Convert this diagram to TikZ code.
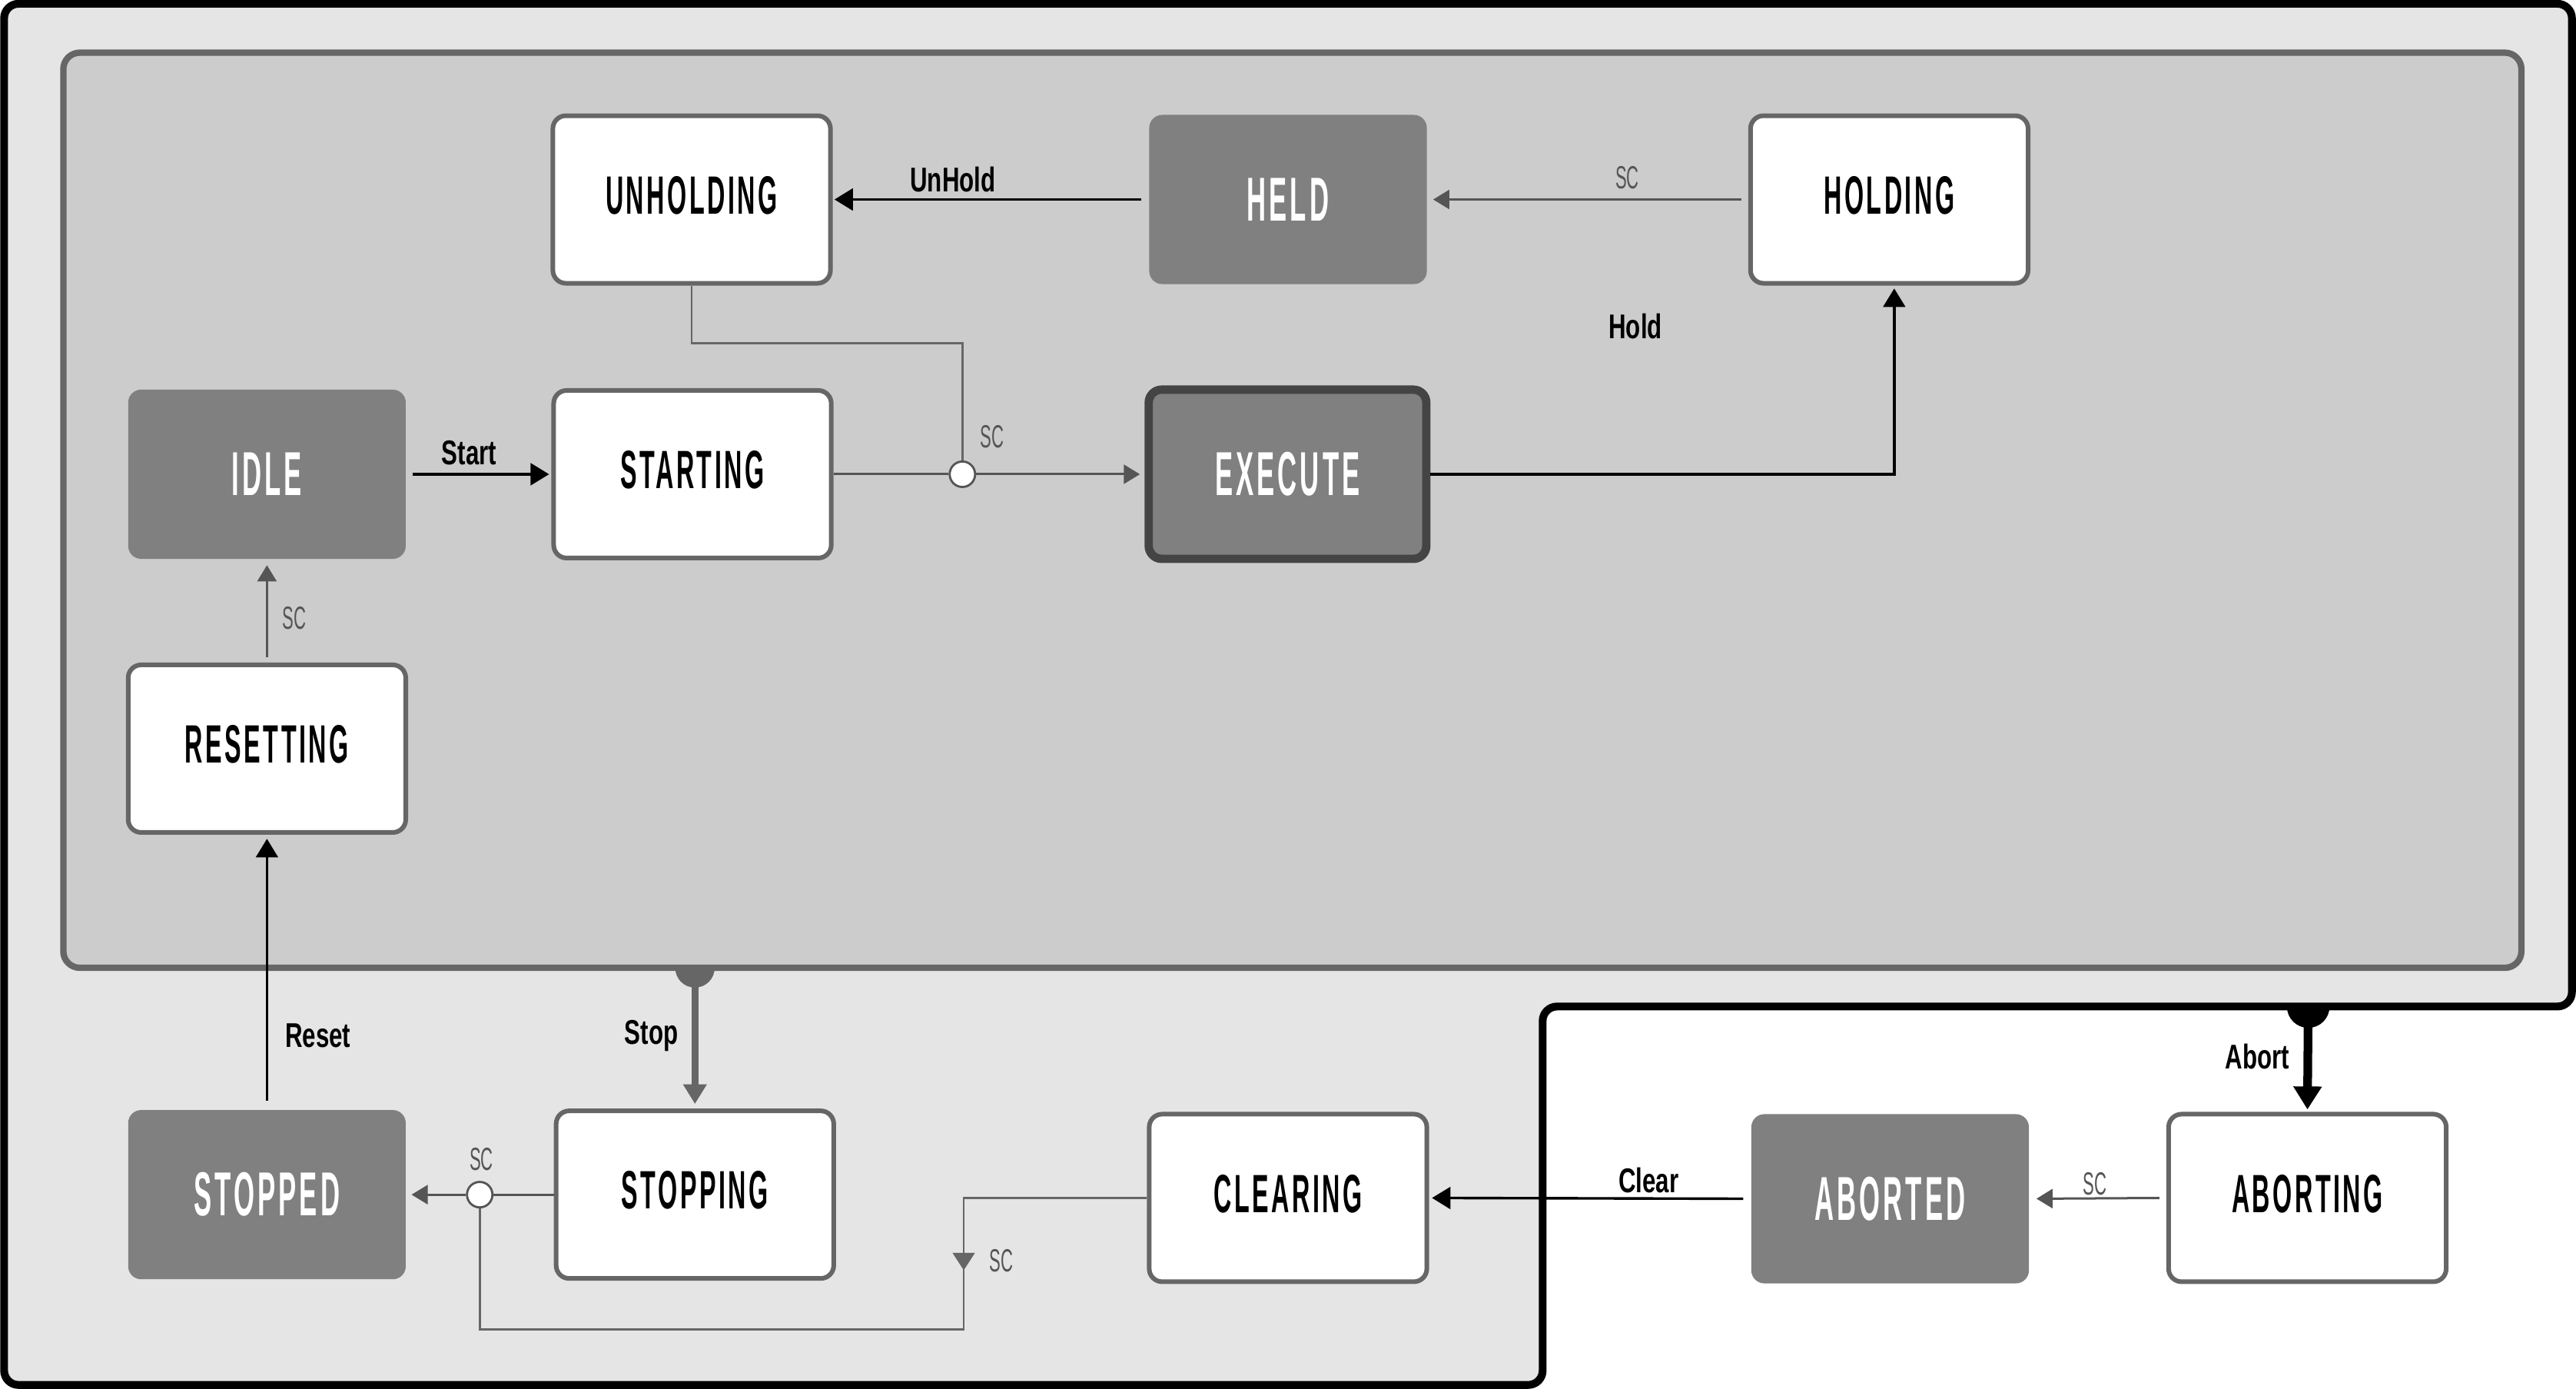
\documentclass[tikz,border=0pt]{standalone}
\usepackage{fontspec}
\setmainfont{Liberation Sans}
\newfontfamily\stfont[FakeStretch=0.46,LetterSpace=5]{Liberation Sans Bold}
\newfontfamily\dkfont[FakeStretch=0.43,LetterSpace=5]{Liberation Sans Bold}
\newfontfamily\lbfont[FakeStretch=0.70]{Liberation Sans Bold}
\newfontfamily\scfnt[FakeStretch=0.53]{Liberation Sans}
\usetikzlibrary{arrows.meta,calc}

\definecolor{outerfill}{HTML}{E5E5E5}
\definecolor{innerfill}{HTML}{CCCCCC}
\definecolor{bordergray}{HTML}{666666}
\definecolor{darkfill}{HTML}{808080}
\definecolor{linegray}{HTML}{555555}
\definecolor{execborder}{HTML}{444444}

\begin{document}
\begin{tikzpicture}[x=0.02cm,y=-0.02cm,
  whitestate/.style={draw=bordergray, line width=1.6pt, fill=white, rounded corners=4.5pt,
    minimum width=3.38cm, minimum height=2.04cm, inner sep=0pt,
    font=\stfont\fontsize{18.7}{20}\selectfont, text height=13.4pt, text depth=3.4pt},
  darkstate/.style={fill=darkfill, rounded corners=4.5pt,
    minimum width=3.38cm, minimum height=2.06cm, inner sep=0pt, text=white,
    font=\dkfont\fontsize{21.5}{23}\selectfont},
  execstate/.style={darkstate, draw=execborder, line width=2.9pt},
  lbl/.style={font=\lbfont\fontsize{11.9}{13}\selectfont, inner sep=0pt, anchor=base},
  sclbl/.style={font=\scfnt\fontsize{11.1}{12}\selectfont, text=linegray, inner sep=0pt, anchor=base},
  junc/.style={circle, draw=linegray, fill=white, line width=0.75pt, minimum size=0.31cm, inner sep=0pt},
  blk/.style={draw=black, line width=0.9pt},
  gry/.style={draw=linegray, line width=0.8pt},
  thn/.style={draw=bordergray, line width=0.7pt},
  btip/.style={-{Triangle[length=6.4pt,width=7.6pt]}},
  gtip/.style={-{Triangle[length=5.6pt,width=6.6pt]}},
]
\useasboundingbox (0,0) rectangle (1568,845);

% abort blob (below outer frame)
\coordinate (abortsrc) at (1405,612.5);
\fill[black] (abortsrc) circle (0.26cm);

% outer frame
\draw[line width=2.7pt, fill=outerfill, rounded corners=5pt]
  (2.5,2.3) -- (1565.5,2.3) -- (1565.5,612.5) -- (939,612.5) -- (939,842.8) -- (2.5,842.8) -- cycle;

% stop blob (below inner box)
\coordinate (stopsrc) at (423,589);
\fill[bordergray] (stopsrc) circle (0.24cm);

% inner box
\node[draw=bordergray, line width=2.2pt, fill=innerfill, rounded corners=5.7pt,
  minimum width=29.93cm, minimum height=11.14cm, inner sep=0pt] (normal) at (786.65,310.5) {};

% states
\node[whitestate] (unholding) at (421,121.4) {UNHOLDING};
\node[darkstate]  (held)      at (784,121.4) {HELD};
\node[whitestate] (holding)   at (1150,121.4) {HOLDING};
\node[darkstate]  (idle)      at (162.5,288.6) {IDLE};
\node[whitestate] (starting)  at (421.5,288.6) {STARTING};
\node[execstate]  (execute)   at (783.7,288.6) {EXECUTE};
\node[whitestate] (resetting) at (162.5,455.6) {RESETTING};
\node[darkstate]  (stopped)   at (162.5,727) {STOPPED};
\node[whitestate] (stopping)  at (423,727) {STOPPING};
\node[whitestate] (clearing)  at (784,729) {CLEARING};
\node[darkstate]  (aborted)   at (1150.5,729.5) {ABORTED};
\node[whitestate] (aborting)  at (1404.5,729) {ABORTING};

% junctions
\node[junc] (j1) at (585.8,288.6) {};
\node[junc] (j2) at (292,727) {};

% connectors
\draw[blk, btip, shorten <=2.6pt, shorten >=0.6pt] (held.west) -- (unholding.east);
\draw[gry, gtip, shorten <=2.4pt, shorten >=2pt] (holding.west) -- (held.east);
\draw[blk, btip, shorten <=2.2pt, shorten >=0.8pt] (idle.east) -- (starting.west);
\draw[gry] (starting.east) -- (j1.west);
\draw[gry, gtip, shorten >=1.6pt] (j1.east) -- (execute.west);
\draw[thn] (unholding.south) -- ++(0,35) -| (j1.north);
\draw[blk, btip, shorten >=1pt] (execute.east) -| ($(holding.south)+(3,0)$);
\draw[gry, gtip, shorten <=1.8pt, shorten >=2pt] (resetting.north) -- (idle.south);
\draw[blk, line width=0.75pt, btip, shorten <=3pt, shorten >=1.4pt] (stopped.north) -- (resetting.south);
\draw[bordergray, line width=2.3pt, -{Triangle[length=6.8pt,width=7.8pt]}, shorten >=1.6pt] (stopsrc) -- (stopping.north);
\draw[gry] (stopping.west) -- (j2.east);
\draw[gry, gtip, shorten >=1.8pt] (j2.west) -- (stopped.east);
\draw[thn, -{Triangle[length=6pt,width=7.6pt]}] (clearing.west) -| ++(-111.5,44);
\draw[thn] ($(clearing.west)+(-111.5,0)$) -- ++(0,80) -| (j2.south);
\draw[blk, btip, shorten <=2.6pt, shorten >=1pt] (aborted.west) -- (clearing.east);
\draw[black, line width=3pt, -{Triangle[length=8pt,width=9.4pt]}, shorten >=0.8pt] (abortsrc) -- (aborting.north);
\draw[gry, gtip, shorten <=2.4pt, shorten >=2.4pt] (aborting.west) -- (aborted.east);

% labels
\node[lbl] (lunhold) at (580,116.5) {UnHold};
\node[sclbl] (lsc1) at (990.5,115) {SC};
\node[lbl] (lstart) at (285.6,283) {Start};
\node[sclbl] (lsc2) at (604,272.6) {SC};
\node[lbl] (lhold) at (995.5,206) {Hold};
\node[sclbl] (lsc3) at (179,383) {SC};
\node[lbl] (lreset) at (193.5,637.5) {Reset};
\node[lbl] (lstop) at (396.5,635.5) {Stop};
\node[sclbl] (lsc4) at (293,712.4) {SC};
\node[sclbl] (lsc5) at (609.5,774) {SC};
\node[lbl] (lclear) at (1003.5,725.6) {Clear};
\node[lbl] (labort) at (1374,650.6) {Abort};
\node[sclbl] (lsc6) at (1275,727) {SC};
\end{tikzpicture}
\end{document}
